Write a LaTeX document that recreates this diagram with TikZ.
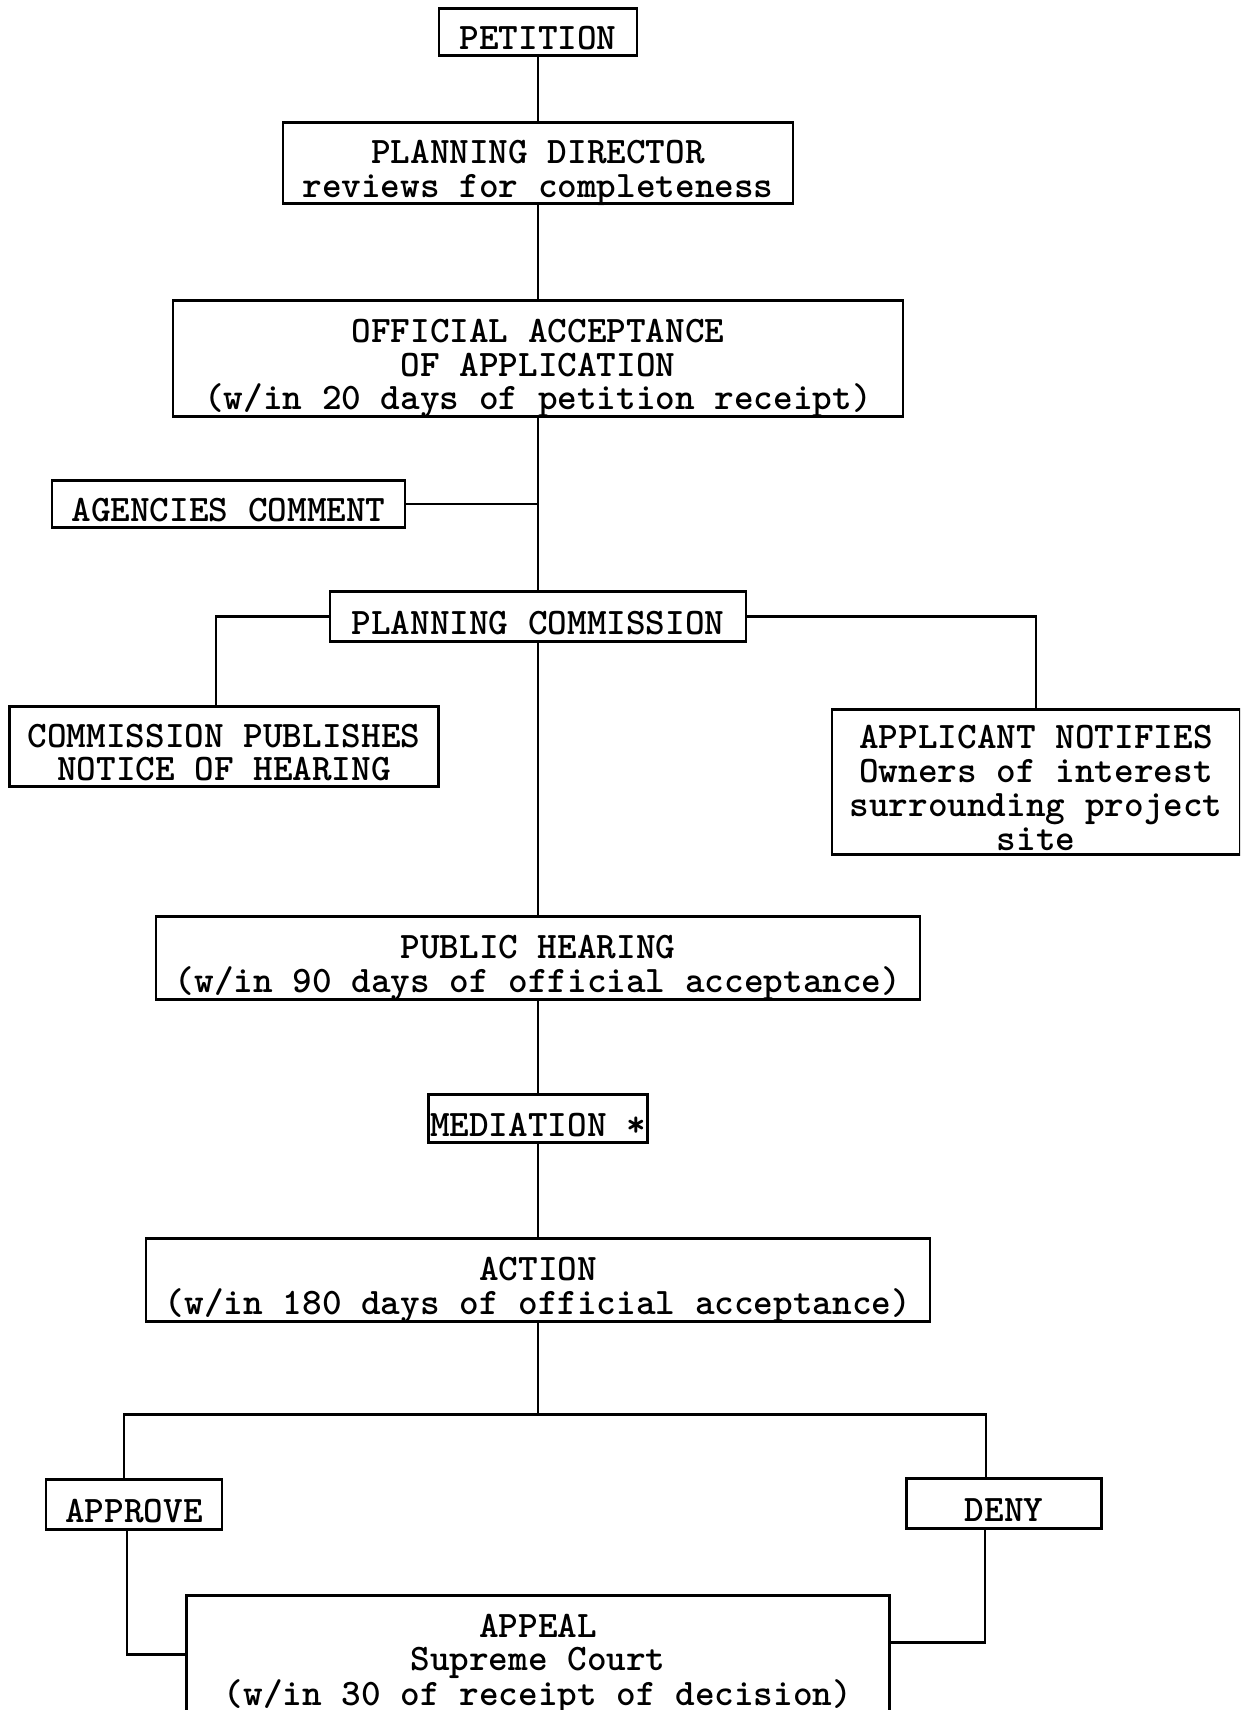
\documentclass[tikz,border=0pt]{standalone}
\usetikzlibrary{positioning, calc}
\tikzset{every node/.style={font=\ttfamily\bfseries\fontsize{37.4}{33.8}\selectfont}}
\tikzset{textlines/.style={text height={35pt+(#1-1)*33.8pt}}, textlines/.default=1}

\begin{document}
\begin{tikzpicture}[x=1pt, y=1pt, node distance=80pt]
  \tikzstyle{stage} = [rectangle, draw=black, line width=2.8pt, inner sep=0pt, outer sep=0pt, align=center, text depth=0pt, textlines]
  \tikzstyle{connector} = [line width=2.2pt]
  \useasboundingbox (0,0) rectangle (1240,-1710);
  \clip (0,0) rectangle (1240,-1710);
  \node (petition) [stage, minimum width=198pt, minimum height=47pt] at (538,-32) {PETITION};
  \node (director) [stage, textlines=2, minimum width=510pt, minimum height=81pt, below=67pt of petition] {PLANNING DIRECTOR\\reviews for completeness};
  \node (acceptance) [stage, textlines=3, minimum width=730pt, minimum height=116pt, below=97pt of director] {OFFICIAL ACCEPTANCE\\OF APPLICATION\\(w/in 20 days of petition receipt)};
  \node (commission) [stage, minimum width=416pt, minimum height=50pt, below=175pt of acceptance] {PLANNING COMMISSION};
  \coordinate (agjoin) at ($(acceptance.south)!0.5!(commission.north)$);
  \node (agencies) [stage, minimum width=353pt, minimum height=47pt, left=133pt of agjoin] {AGENCIES COMMENT};
  \node (publishes) [stage, textlines=2, minimum width=429pt, minimum height=80pt, below=65pt of commission.south west, xshift=-106pt] {COMMISSION PUBLISHES\\NOTICE OF HEARING};
  \node (notifies) [stage, textlines=4, minimum width=408pt, minimum height=145pt, below=68pt of commission.south east, xshift=290pt] {APPLICANT NOTIFIES\\Owners of interest\\surrounding project\\site};
  \node (hearing) [stage, textlines=2, minimum width=764pt, minimum height=83pt, below=275pt of commission] {PUBLIC HEARING\\(w/in 90 days of official acceptance)};
  \node (mediation) [stage, minimum width=219pt, minimum height=48pt, below=95pt of hearing] {MEDIATION *};
  \node (action) [stage, textlines=2, minimum width=784pt, minimum height=83pt, below=96pt of mediation] {ACTION\\(w/in 180 days of official acceptance)};
  \coordinate [below=93pt of action] (fork);
  \node (approve) [stage, minimum width=176pt, minimum height=50pt, below=65pt of fork, xshift=-404pt] {APPROVE};
  \node (deny) [stage, minimum width=195pt, minimum height=50pt, below=64pt of fork, xshift=466pt] {DENY};
  \node (appeal) [stage, textlines=3, minimum width=703pt, minimum height=118pt, below=274pt of action] {APPEAL\\Supreme Court\\(w/in 30 of receipt of decision)};
  \draw [connector] (petition) -- (director);
  \draw [connector] (director) -- (acceptance);
  \draw [connector] (acceptance) -- (commission);
  \draw [connector] (agencies) -- (agjoin);
  \draw [connector] (commission.west) -| ([xshift=-8pt]publishes.north);
  \draw [connector] (commission.east) -| (notifies.north);
  \draw [connector] (commission) -- (hearing);
  \draw [connector] (hearing) -- (mediation);
  \draw [connector] (mediation) -- (action);
  \draw [connector] (action) -- (fork);
  \draw [connector] ([xshift=-10pt]approve.north) |- (fork) -| ([xshift=-18pt]deny.north);
  \draw [connector] ([xshift=-7pt]approve.south) |- (appeal.west);
  \draw [connector] ([xshift=-19pt]deny.south) |- ([yshift=12pt]appeal.east);
\end{tikzpicture}
\end{document}
